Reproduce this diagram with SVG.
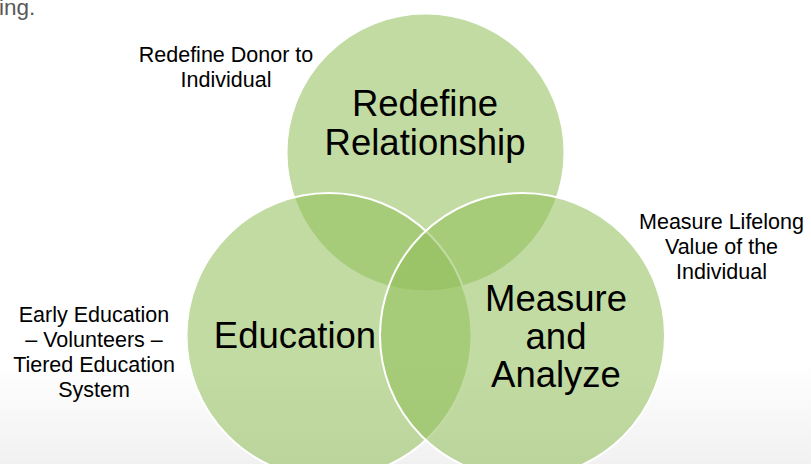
<svg xmlns="http://www.w3.org/2000/svg" width="811" height="464" viewBox="0 0 811 464">
  <defs>
    <linearGradient id="bg" x1="0" y1="0" x2="0" y2="464" gradientUnits="userSpaceOnUse">
      <stop offset="0" stop-color="#ffffff"/>
      <stop offset="0.78" stop-color="#ffffff"/>
      <stop offset="1" stop-color="#f1f1f1"/>
    </linearGradient>
  </defs>
  <style>
    .c { fill: #90be5a; fill-opacity: 0.56; stroke: #ffffff; stroke-width: 2; }
    .big { font-family: "Liberation Sans", Arial, sans-serif; font-size: 36.5px; fill: #000000; text-anchor: middle; }
    .lbl { font-family: "Liberation Sans", Arial, sans-serif; font-size: 21.5px; fill: #000000; text-anchor: middle; }
    .top { font-family: "Liberation Sans", Arial, sans-serif; font-size: 22.5px; fill: #595959; }
  </style>
  <rect x="0" y="0" width="811" height="464" fill="url(#bg)"/>
  <text class="top" x="-1" y="15">ing.</text>

  <g id="node-redefine">
    <circle class="c" cx="425.5" cy="152.5" r="139"/>
    <text class="big" x="425" y="116">Redefine</text>
    <text class="big" x="425" y="155">Relationship</text>
  </g>
  <g id="node-education">
    <circle class="c" cx="329" cy="335.5" r="142.5"/>
    <text class="big" x="295" y="348">Education</text>
  </g>
  <g id="node-measure">
    <circle class="c" cx="522.5" cy="335.5" r="142.5"/>
    <text class="big" x="556" y="311">Measure</text>
    <text class="big" x="556" y="349">and</text>
    <text class="big" x="556" y="387">Analyze</text>
  </g>

  <g id="label-donor">
    <text class="lbl" x="226" y="62">Redefine Donor to</text>
    <text class="lbl" x="226" y="87">Individual</text>
  </g>
  <g id="label-lifelong">
    <text class="lbl" x="721.5" y="229">Measure Lifelong</text>
    <text class="lbl" x="721.5" y="254">Value of the</text>
    <text class="lbl" x="721.5" y="279">Individual</text>
  </g>
  <g id="label-early">
    <text class="lbl" x="94" y="322">Early Education</text>
    <text class="lbl" x="94" y="347">– Volunteers –</text>
    <text class="lbl" x="94" y="372">Tiered Education</text>
    <text class="lbl" x="94" y="397">System</text>
  </g>
  <g id="connectors"/>
</svg>
